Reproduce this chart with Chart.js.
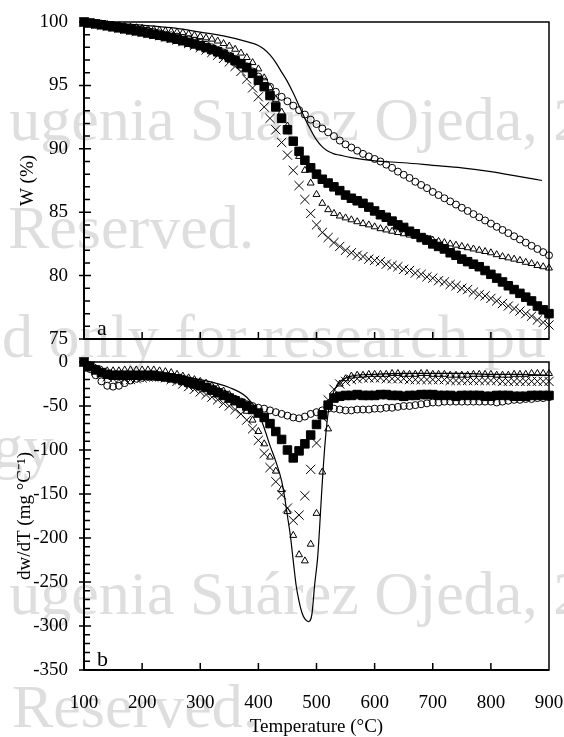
<!DOCTYPE html>
<html>
<head>
<meta charset="utf-8">
<script src="https://cdn.jsdelivr.net/npm/chart.js@4/dist/chart.umd.min.js"></script>
<style>
  body { margin: 0; background: #fff; }
  #page { position: relative; width: 564px; height: 737px; overflow: hidden; }
  canvas { position: absolute; left: 0; }
</style>
</head>
<body>
<div id="page">
  <canvas id="wm" width="564" height="737" style="top:0"></canvas>
  <canvas id="tga" width="564" height="351" style="top:0"></canvas>
  <canvas id="dtg" width="564" height="392" style="top:345px"></canvas>
</div>
<script>
// temperature (ºC) of the marker series
const tempC = [
  100, 110, 120, 130, 140, 150, 160, 170, 180, 190,
  200, 210, 220, 230, 240, 250, 260, 270, 280, 290,
  300, 310, 320, 330, 340, 350, 360, 370, 380, 390,
  400, 410, 420, 430, 440, 450, 460, 470, 480, 490,
  500, 510, 520, 530, 540, 550, 560, 570, 580, 590,
  600, 610, 620, 630, 640, 650, 660, 670, 680, 690,
  700, 710, 720, 730, 740, 750, 760, 770, 780, 790,
  800, 810, 820, 830, 840, 850, 860, 870, 880, 890,
  900
];

// a) weight (%)
const wCircle = [
  100.0, 99.95, 99.9, 99.85, 99.8, 99.75, 99.7, 99.6, 99.55, 99.5,
  99.4, 99.3, 99.2, 99.1, 99.0, 98.95, 98.85, 98.75, 98.65, 98.5,
  98.35, 98.2, 98.0, 97.8, 97.6, 97.35, 97.1, 96.8, 96.5, 96.1,
  95.7, 95.3, 94.9, 94.5, 94.1, 93.75, 93.4, 93.05, 92.7, 92.3,
  91.95, 91.6, 91.3, 91.0, 90.65, 90.35, 90.1, 89.85, 89.6, 89.4,
  89.2, 89.0, 88.75, 88.5, 88.2, 87.95, 87.7, 87.4, 87.15, 86.9,
  86.6, 86.35, 86.1, 85.85, 85.6, 85.35, 85.1, 84.85, 84.6, 84.35,
  84.1, 83.85, 83.6, 83.35, 83.1, 82.85, 82.6, 82.35, 82.1, 81.85,
  81.6
];
const wTriangle = [
  100.0, 99.95, 99.9, 99.85, 99.8, 99.75, 99.7, 99.65, 99.6, 99.55,
  99.5, 99.45, 99.4, 99.35, 99.3, 99.25, 99.2, 99.15, 99.05, 98.95,
  98.85, 98.75, 98.65, 98.5, 98.3, 98.1, 97.85, 97.55, 97.2, 96.8,
  96.3, 95.6, 94.8, 93.9, 92.9, 91.8, 90.6, 89.4, 88.3, 87.3,
  86.4, 85.7, 85.2, 84.9, 84.7, 84.55, 84.4, 84.25, 84.1, 84.0,
  83.85, 83.7, 83.6, 83.5, 83.4, 83.3, 83.2, 83.1, 83.0, 82.9,
  82.8, 82.7, 82.6, 82.5, 82.4, 82.3, 82.2, 82.1, 82.0, 81.9,
  81.8, 81.65, 81.5, 81.4, 81.3, 81.2, 81.05, 80.95, 80.8, 80.7,
  80.6
];
const wSquare = [
  100.0, 99.92, 99.85, 99.78, 99.7, 99.62, 99.54, 99.46, 99.38, 99.3,
  99.22, 99.13, 99.04, 98.95, 98.85, 98.75, 98.64, 98.52, 98.4, 98.27,
  98.13, 97.98, 97.82, 97.65, 97.45, 97.2, 96.95, 96.7, 96.4, 95.95,
  95.4, 94.9, 94.2, 93.3, 92.4, 91.5, 90.6, 89.8, 89.1, 88.5,
  88.0, 87.6, 87.3, 87.0, 86.7, 86.35, 86.1, 85.9, 85.7, 85.4,
  85.1, 84.8, 84.6, 84.3, 84.0, 83.8, 83.5, 83.3, 83.0, 82.8,
  82.5, 82.3, 82.1, 81.8, 81.6, 81.3, 81.1, 80.9, 80.7, 80.4,
  80.1, 79.8, 79.5, 79.2, 78.9, 78.6, 78.3, 78.0, 77.6, 77.3,
  77.0
];
const wCross = [
  100.0, 99.92, 99.84, 99.76, 99.68, 99.6, 99.52, 99.44, 99.36, 99.28,
  99.2, 99.11, 99.02, 98.92, 98.82, 98.7, 98.58, 98.45, 98.3, 98.15,
  97.98, 97.8, 97.6, 97.38, 97.13, 96.85, 96.5, 96.1, 95.5, 94.8,
  94.1, 93.3, 92.4, 91.5, 90.5, 89.5, 88.3, 87.1, 86.0, 84.9,
  84.0, 83.4, 83.0, 82.6, 82.3, 82.0, 81.8, 81.6, 81.5, 81.3,
  81.2, 81.1, 80.9, 80.8, 80.7, 80.5, 80.4, 80.2, 80.1, 79.9,
  79.8, 79.6, 79.5, 79.3, 79.2, 79.0, 78.9, 78.7, 78.5, 78.4,
  78.2, 78.0, 77.8, 77.6, 77.4, 77.2, 77.0, 76.8, 76.5, 76.3,
  76.1
];
const wLineT = [100, 150, 200, 250, 300, 340, 380, 400, 410, 420, 430, 440, 450, 460, 470,
  480, 490, 500, 510, 520, 530, 540, 560, 600, 650, 700, 750, 800, 850, 888];
const wLine = [100.0, 99.9, 99.75, 99.55, 99.2, 98.9, 98.45, 98.15, 97.85, 97.4, 96.8, 96.05, 95.3, 94.4, 93.4,
  92.4, 91.5, 90.7, 90.15, 89.8, 89.6, 89.5, 89.3, 89.05, 88.9, 88.7, 88.5, 88.2, 87.8, 87.5];

// b) dw/dT (mg ºC-1)
const dCircle = [
  0, -8, -15, -22, -27, -28, -27, -24, -21, -19,
  -18, -17, -17, -17, -17, -17, -18, -19, -21, -23,
  -25, -28, -30, -33, -36, -39, -42, -45, -48, -50,
  -52, -53, -55, -57, -59, -61, -63, -64, -62, -59,
  -57, -55, -53, -53, -54, -55, -55, -54, -54, -54,
  -53, -53, -52, -52, -51, -50, -50, -49, -48, -47,
  -46, -46, -45, -45, -45, -45, -45, -45, -45, -45,
  -45, -46, -45, -44, -43, -43, -42, -42, -41, -41,
  -40
];
const dTriangle = [
  0, -4, -7, -9, -10, -10, -10, -9, -9, -9,
  -9, -9, -9, -10, -11, -12, -14, -16, -18, -20,
  -22, -24, -27, -30, -33, -37, -42, -48, -56, -66,
  -79, -93, -108, -124, -145, -170, -197, -219, -226, -207,
  -172, -125, -76, -40, -25, -19, -16, -15, -15, -14,
  -14, -14, -14, -13, -13, -14, -14, -14, -13, -13,
  -14, -14, -14, -15, -15, -15, -15, -14, -14, -14,
  -14, -15, -15, -15, -14, -14, -14, -13, -13, -13,
  -13
];
const dSquare = [
  0, -5, -9, -12, -14, -15, -15, -15, -15, -15,
  -15, -15, -15, -16, -17, -18, -19, -21, -23, -25,
  -27, -29, -32, -35, -38, -41, -44, -47, -50, -54,
  -58, -63, -70, -79, -88, -100, -109, -101, -93, -83,
  -71, -60, -49, -41, -39, -38, -38, -37, -38, -38,
  -38, -37, -37, -38, -38, -39, -38, -38, -37, -37,
  -37, -38, -38, -38, -39, -38, -38, -38, -38, -39,
  -39, -38, -38, -38, -39, -39, -39, -38, -38, -38,
  -38
];
const dCross = [
  0, -5, -10, -14, -17, -19, -20, -20, -20, -19,
  -18, -17, -17, -17, -18, -20, -22, -25, -28, -31,
  -34, -37, -40, -43, -47, -50, -54, -59, -66, -76,
  -89, -104, -120, -136, -151, -166, -180, -174, -152, -122,
  -92, -63, -43, -31, -25, -22, -20, -19, -18, -18,
  -18, -18, -19, -19, -19, -19, -20, -20, -20, -20,
  -20, -20, -20, -21, -21, -21, -21, -21, -21, -21,
  -21, -21, -22, -22, -22, -22, -22, -22, -22, -22,
  -22
];
const dLineT = [100, 120, 150, 200, 250, 300, 350, 380, 400, 410, 420, 430, 440, 445, 450, 455, 460, 465,
  470, 475, 480, 486, 492, 497, 502, 505, 508, 511, 515, 520, 527, 535, 545, 560, 600, 650,
  700, 750, 800, 850, 900];
const dLine = [0, -8, -12, -13, -15, -20, -29, -40, -58, -75, -95, -113, -135, -153, -175, -197, -226, -254,
  -272, -285, -292, -295, -287, -252, -222, -192, -158, -126, -90, -58, -38, -27, -20, -16, -14, -13,
  -13, -13, -14, -14, -15];

// axes
const xTicks = [100, 200, 300, 400, 500, 600, 700, 800, 900];
const wTicks = [75, 80, 85, 90, 95, 100];
const dTicks = [-350, -300, -250, -200, -150, -100, -50, 0];

const serif = "'Liberation Serif', 'Times New Roman', serif";
Chart.defaults.font.family = serif;
Chart.defaults.font.size = 19;
Chart.defaults.color = '#000';

// watermark behind the plots
const wm = document.getElementById('wm').getContext('2d');
wm.fillStyle = '#dedede';
wm.font = "62px " + serif;
const line1 = 'ugenia Suárez Ojeda, 2';
wm.fillText(line1, 190 - wm.measureText('ugenia ').width, 140);
wm.fillText('Reserved.', 8, 248);
wm.fillText('d only for research pu', 262 - wm.measureText('d only for ').width, 357);
wm.fillText('gy', -8, 467);
wm.fillText(line1, 190 - wm.measureText('ugenia ').width, 614);
wm.fillText('Reserved.', 12, 727);

function pts(xs, ys) {
  return xs.map((x, i) => ({x: x, y: ys[i]}));
}

function markers(label, ys, style, radius, filled) {
  return {
    label: label,
    data: pts(tempC, ys),
    showLine: false,
    pointStyle: style,
    pointRadius: radius,
    pointHoverRadius: radius,
    pointBorderColor: '#000',
    pointBackgroundColor: filled ? '#000' : 'rgba(0,0,0,0)',
    pointBorderWidth: 1,
    clip: false
  };
}

function curve(label, xs, ys) {
  return {
    label: label,
    data: pts(xs, ys),
    borderColor: '#000',
    borderWidth: 1.2,
    pointRadius: 0,
    cubicInterpolationMode: 'monotone',
    clip: false
  };
}

// box, inward ticks and panel letter
const frame = {
  id: 'frame',
  afterDraw(chart, args, o) {
    const {ctx, chartArea: a, scales} = chart;
    const x = scales.x, y = scales.y;
    ctx.save();
    ctx.strokeStyle = '#000';
    ctx.lineWidth = 1.5;
    ctx.strokeRect(a.left, a.top, a.right - a.left, a.bottom - a.top);
    ctx.lineWidth = 2;
    ctx.beginPath();
    ctx.moveTo(a.left, a.top);
    ctx.lineTo(a.left, a.bottom);
    ctx.lineTo(a.right, a.bottom);
    ctx.stroke();

    ctx.lineWidth = 1.5;
    ctx.beginPath();
    xTicks.slice(1, -1).forEach(v => {
      const px = x.getPixelForValue(v);
      ctx.moveTo(px, a.bottom);
      ctx.lineTo(px, a.bottom - 7);
    });
    const n = Math.round((o.max - o.min) / o.minor);
    for (let i = 1; i < n; i++) {
      const py = y.getPixelForValue(o.min + i * o.minor);
      ctx.moveTo(a.left, py);
      ctx.lineTo(a.left + 6, py);
    }
    o.major.forEach(v => {
      const py = y.getPixelForValue(v);
      ctx.moveTo(a.left - 5, py);
      ctx.lineTo(a.left + 7, py);
    });
    ctx.stroke();

    ctx.fillStyle = '#000';
    ctx.font = "22px " + serif;
    ctx.fillText(o.letter, a.left + 13, a.bottom - 4);
    ctx.restore();
  }
};

// tick offsets go through grid.tickLength (grid hidden) so the label
// padding does not widen the chart margins
function makeScales(yMin, yMax, yTicks, yTitle, titlePad, showX, xHeight) {
  return {
    x: {
      type: 'linear',
      min: 100,
      max: 900,
      afterBuildTicks: s => { s.ticks = xTicks.map(v => ({value: v})); },
      afterFit: s => { s.height = xHeight; },
      grid: {display: false, drawTicks: true, tickLength: 22},
      border: {display: false},
      ticks: {display: showX, padding: 0, maxRotation: 0, font: {size: 19}},
      title: {
        display: showX,
        text: 'Temperature (°C)',
        font: {size: 19, lineHeight: 1},
        padding: {top: 0, bottom: 0}
      }
    },
    y: {
      min: yMin,
      max: yMax,
      afterBuildTicks: s => { s.ticks = yTicks.map(v => ({value: v})); },
      afterFit: s => { s.width = 84; },
      grid: {display: false, drawTicks: true, tickLength: 16},
      border: {display: false},
      ticks: {padding: 0, font: {size: 19}},
      title: {
        display: true,
        text: yTitle,
        font: {size: 19, lineHeight: 1},
        padding: {top: titlePad, bottom: 0}
      }
    }
  };
}

const common = {
  responsive: false,
  animation: false,
  devicePixelRatio: 1,
  plugins: {legend: {display: false}, tooltip: {enabled: false}}
};

new Chart(document.getElementById('tga'), {
  type: 'line',
  data: {
    datasets: [
      curve('line', wLineT, wLine),
      markers('circles', wCircle, 'circle', 3.5, false),
      markers('triangles', wTriangle, 'triangle', 4, false),
      markers('crosses', wCross, 'crossRot', 6.5, false),
      markers('squares', wSquare, 'rect', 6, true)
    ]
  },
  options: Object.assign({}, common, {
    layout: {padding: {top: 22, right: 15, left: 0, bottom: 0}},
    scales: makeScales(75, 100, wTicks, 'W (%)', 18.5, false, 12),
    plugins: Object.assign({}, common.plugins, {
      frame: {letter: 'a', min: 75, max: 100, minor: 1, major: wTicks}
    })
  }),
  plugins: [frame]
});

new Chart(document.getElementById('dtg'), {
  type: 'line',
  data: {
    datasets: [
      curve('line', dLineT, dLine),
      markers('circles', dCircle, 'circle', 3.5, false),
      markers('triangles', dTriangle, 'triangle', 4, false),
      markers('crosses', dCross, 'crossRot', 6.5, false),
      markers('squares', dSquare, 'rect', 6, true)
    ]
  },
  options: Object.assign({}, common, {
    layout: {padding: {top: 17, right: 15, left: 0, bottom: 0}},
    scales: makeScales(-350, 0, dTicks, 'dw/dT (mg °C⁻¹)', 15.5, true, 67),
    plugins: Object.assign({}, common.plugins, {
      frame: {letter: 'b', min: -350, max: 0, minor: 10, major: dTicks}
    })
  }),
  plugins: [frame]
});
</script>
</body>
</html>
